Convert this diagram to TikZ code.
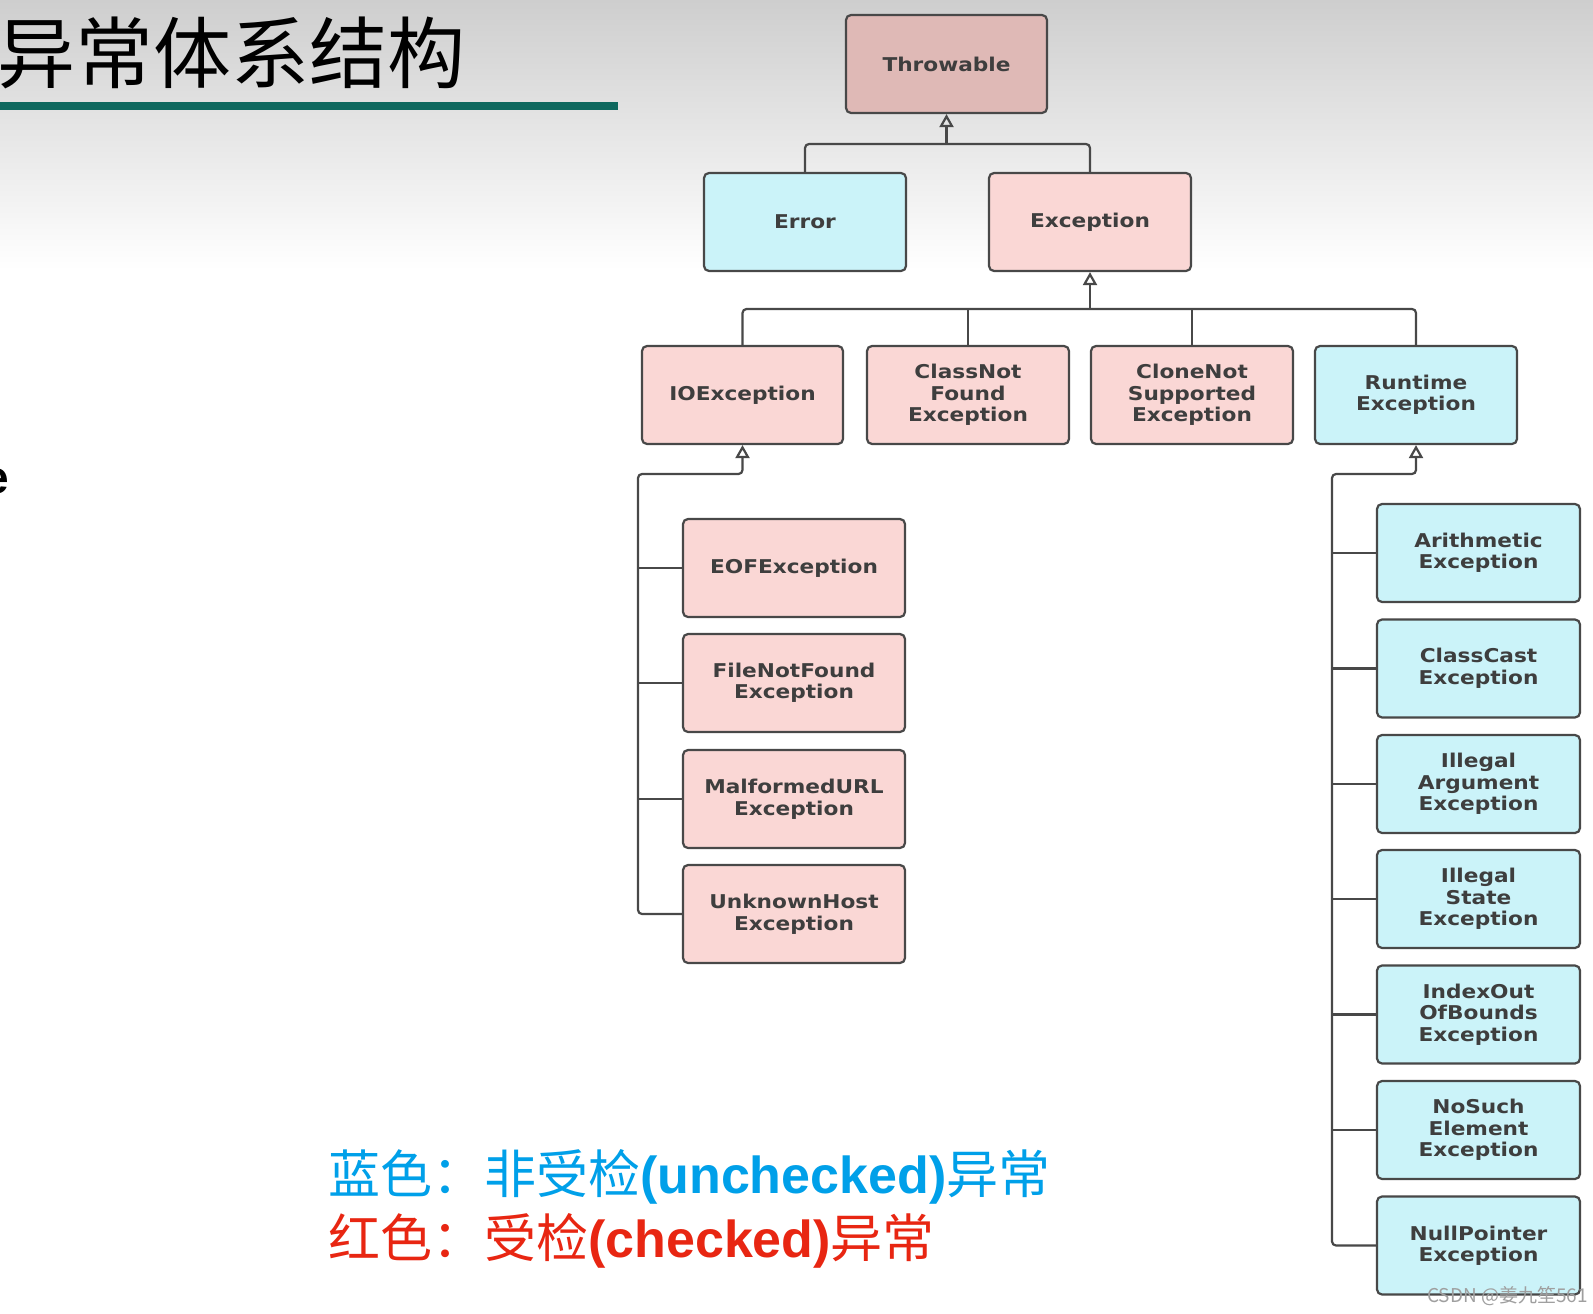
\documentclass[tikz,border=0pt]{standalone}
\usepackage{fontspec}
\usetikzlibrary{arrows.meta}
\newfontfamily\cjk{Noto Sans CJK SC}
\newfontfamily\boxf{DejaVu Sans}[FakeStretch=1.14]
\newfontfamily\latb{Liberation Sans}
\definecolor{pinkf}{RGB}{250,215,213}
\definecolor{thrf}{RGB}{223,185,182}
\definecolor{cyanf}{RGB}{203,243,249}
\definecolor{edgec}{RGB}{72,72,72}
\definecolor{txtc}{RGB}{62,62,62}
\definecolor{tealbar}{RGB}{14,104,94}
\definecolor{legblue}{RGB}{0,160,233}
\definecolor{legred}{RGB}{232,38,18}
\begin{document}
\begin{tikzpicture}[x=1pt,y=-1pt,
  box/.style={draw=edgec, line width=2.2pt, rounded corners=5pt, minimum height=98pt,
    inner sep=0pt, align=center, text=txtc,
    font=\boxf\bfseries\fontsize{19}{21.5}\selectfont},
  redbox/.style={box, fill=pinkf},
  bluebox/.style={box, fill=cyanf},
  conn/.style={draw=edgec, line width=2.2pt, rounded corners=4pt},
  inh/.style={conn, -{Triangle[open, length=13pt, width=14pt, line width=2.2pt]}}
]
\useasboundingbox (0,0) rectangle (1593,1314);
\fill[white] (0,0) rectangle (1593,1314);
\shade[top color={rgb,255:red,206;green,206;blue,206}, bottom color=white] (0,0) rectangle (1593,270);

% title
\node[anchor=base west, inner sep=0pt, font=\cjk\fontsize{78}{78}\selectfont] (title) at (-3,82) {异常体系结构};
\fill[tealbar] (0,102) rectangle (618,110);
\node[anchor=base east, inner sep=0pt, font=\latb\bfseries\fontsize{46}{46}\selectfont] (efrag) at (9.5,493) {e};

% level 0/1
\node[box, fill=thrf, minimum width=201pt] (thr) at (946.5,64) {Throwable};
\node[bluebox, minimum width=202pt] (err) at (805,222) {Error};
\node[redbox, minimum width=202pt] (exc) at (1090,222) {Exception};

% level 2
\node[redbox, minimum width=201pt] (io) at (742.5,395) {IOException};
\node[redbox, minimum width=202pt] (cnf) at (968,395) {ClassNot\\Found\\Exception};
\node[redbox, minimum width=202pt] (cns) at (1192,395) {CloneNot\\Supported\\Exception};
\node[bluebox, minimum width=202pt] (rt) at (1416,395) {Runtime\\Exception};

% IO children
\node[redbox, minimum width=222pt] (eof) at (794,568) {EOFException};
\node[redbox, minimum width=222pt] (fnf) at (794,683) {FileNotFound\\Exception};
\node[redbox, minimum width=222pt] (mal) at (794,799) {MalformedURL\\Exception};
\node[redbox, minimum width=222pt] (unk) at (794,914) {UnknownHost\\Exception};

% Runtime children
\node[bluebox, minimum width=203pt] (ari) at (1478.5,553) {Arithmetic\\Exception};
\node[bluebox, minimum width=203pt] (ccx) at (1478.5,668.5) {ClassCast\\Exception};
\node[bluebox, minimum width=203pt] (iae) at (1478.5,784) {Illegal\\Argument\\Exception};
\node[bluebox, minimum width=203pt] (ise) at (1478.5,899) {Illegal\\State\\Exception};
\node[bluebox, minimum width=203pt] (iob) at (1478.5,1014.5) {IndexOut\\OfBounds\\Exception};
\node[bluebox, minimum width=203pt] (nse) at (1478.5,1130) {NoSuch\\Element\\Exception};
\node[bluebox, minimum width=203pt] (npe) at (1478.5,1245.5) {NullPointer\\Exception};

% junction coordinates
\coordinate (tb) at (946.5,144);
\coordinate (eb) at (1090,309);
\coordinate (lt) at (638,474);
\coordinate (rtk) at (1332,474);

% connectors
\draw[conn] (err.north) |- (tb) -| (exc.north);
\draw[inh] (tb) -- (thr.south);

\draw[conn] (io.north) |- (eb) -| (rt.north);
\draw[conn] (cnf.north) -- (cnf.north |- eb);
\draw[conn] (cns.north) -- (cns.north |- eb);
\draw[inh] (eb) -- (exc.south);

\draw[inh] (unk.west) -| (lt) -| (io.south);
\draw[conn] (eof.west) -- (eof.west -| lt);
\draw[conn] (fnf.west) -- (fnf.west -| lt);
\draw[conn] (mal.west) -- (mal.west -| lt);

\draw[inh] (npe.west) -| (rtk) -| (rt.south);
\draw[conn] (ari.west) -- (ari.west -| rtk);
\draw[conn] (ccx.west) -- (ccx.west -| rtk);
\draw[conn] (iae.west) -- (iae.west -| rtk);
\draw[conn] (ise.west) -- (ise.west -| rtk);
\draw[conn] (iob.west) -- (iob.west -| rtk);
\draw[conn] (nse.west) -- (nse.west -| rtk);

% legend
\node[anchor=base west, inner sep=0pt, text=legblue, font=\cjk\fontsize{52}{52}\selectfont] (leg1) at (328,1193) {蓝色：非受检{\latb\bfseries(unchecked)}异常};
\node[anchor=base west, inner sep=0pt, text=legred, font=\cjk\fontsize{52}{52}\selectfont] (leg2) at (328,1257) {红色：受检{\latb\bfseries(checked)}异常};

% watermark
\node[anchor=base west, inner sep=0pt, text=gray!75, font=\cjk\fontsize{19}{19}\selectfont] (wm) at (1427,1302) {CSDN @姜九笙561};
\end{tikzpicture}
\end{document}
